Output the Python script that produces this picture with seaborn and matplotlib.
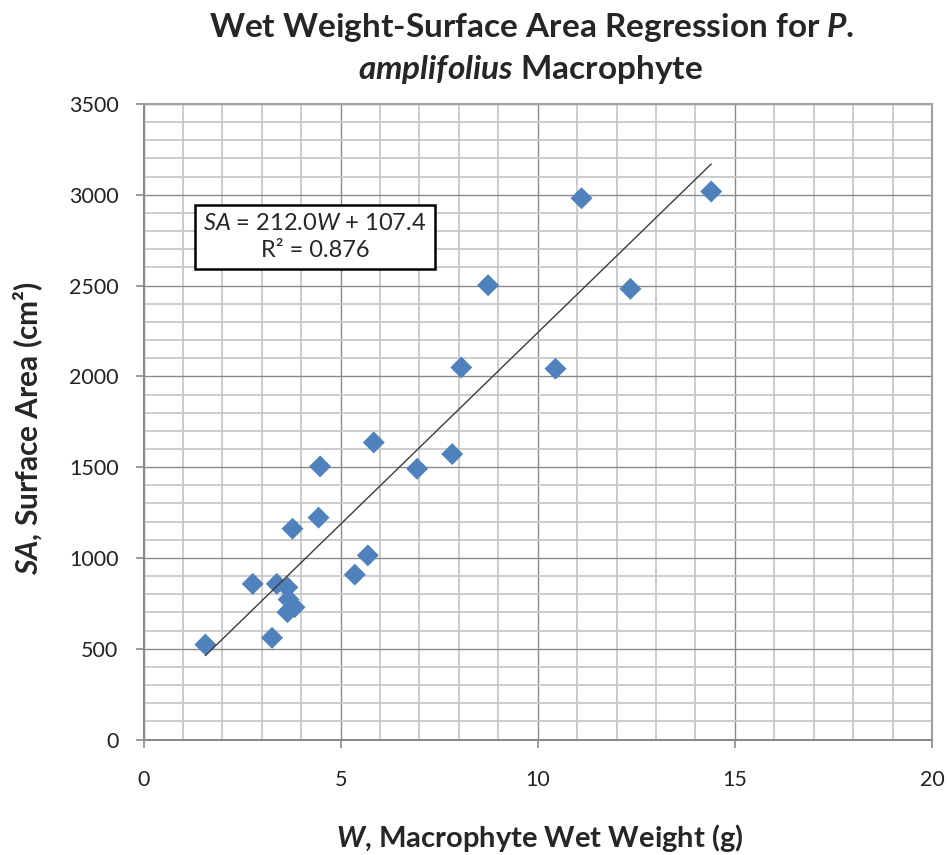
import numpy as np
import pandas as pd
import matplotlib
matplotlib.use("Agg")
import matplotlib.pyplot as plt
import seaborn as sns
from matplotlib.ticker import MultipleLocator

# Data
wet_weight = [1.57, 2.77, 3.26, 3.38, 3.65, 3.68, 3.65, 3.83, 3.78, 4.44, 4.48,
              5.36, 5.69, 5.84, 6.94, 7.83, 8.06, 8.74, 10.45, 11.11, 12.35, 14.40]
surface_area = [523, 857, 560, 857, 838, 771, 701, 728, 1161, 1222, 1504,
                908, 1014, 1636, 1491, 1572, 2049, 2502, 2042, 2981, 2482, 3018]
x_ticks = [0, 5, 10, 15, 20]
y_ticks = [0, 500, 1000, 1500, 2000, 2500, 3000, 3500]
equation_text = "$\\mathit{SA}$ = 212.0$\\mathit{W}$ + 107.4\nR² = 0.876"

df = pd.DataFrame({"W": wet_weight, "SA": surface_area})

sns.set_theme(style="white")
plt.rcParams["font.family"] = ["Lato", "DejaVu Sans"]
plt.rcParams["mathtext.fontset"] = "custom"
plt.rcParams["mathtext.rm"] = "Lato"
plt.rcParams["mathtext.it"] = "Lato:italic"
plt.rcParams["mathtext.bf"] = "Lato:bold"
plt.rcParams["mathtext.bfit"] = "Lato:italic:bold"

fig = plt.figure(figsize=(9.48, 8.55), dpi=100)
ax = fig.add_axes([143.5 / 948, 1 - 739.5 / 855, (932 - 143.5) / 948, (739.5 - 104) / 855])

sns.regplot(data=df, x="W", y="SA", ax=ax, ci=None, marker="D",
            scatter_kws=dict(s=125, color="#4F81BD", edgecolors="none", zorder=3, alpha=1),
            line_kws=dict(color="#3c3c3c", lw=1.0, zorder=4))

ax.set_xlim(0, 20)
ax.set_ylim(0, 3500)
ax.set_xticks(x_ticks)
ax.set_yticks(y_ticks)
ax.xaxis.set_minor_locator(MultipleLocator(1))
ax.yaxis.set_minor_locator(MultipleLocator(100))
ax.grid(which="major", color="#8a8a8a", lw=1.0, zorder=0)
ax.grid(which="minor", color="#c8c8c8", lw=1.3, zorder=0)
ax.set_axisbelow(True)

for side in ["top", "right"]:
    ax.spines[side].set_color("#a0a0a0")
    ax.spines[side].set_linewidth(1.5)
for side in ["left", "bottom"]:
    ax.spines[side].set_color("#8a8a8a")
    ax.spines[side].set_linewidth(1.5)

ax.tick_params(which="major", axis="both", direction="out", length=6,
               width=1.2, color="#8a8a8a", labelsize=15.5, labelcolor="#222222")
ax.tick_params(which="major", axis="y", pad=12)
ax.tick_params(which="major", axis="x", pad=16)
ax.tick_params(which="minor", length=0)
ax.tick_params(left=True, bottom=True)

ax.set_xlabel("$\\mathbfit{W}$, Macrophyte Wet Weight (g)", fontsize=21,
              fontweight="bold", va="center")
ax.xaxis.set_label_coords((540 - 143.5) / 788.5, (739.5 - 838) / 635.5)
ax.set_ylabel("$\\mathbfit{SA}$, Surface Area (cm²)", fontsize=21.5,
              fontweight="bold", va="center", ha="center")
ax.yaxis.set_label_coords((28 - 143.5) / 788.5, (739.5 - 428) / 635.5)

fig.text(531 / 948, 1 - 27 / 855,
         "Wet Weight-Surface Area Regression for $\\mathbfit{P.}$",
         ha="center", va="center", fontsize=24, fontweight="bold")
fig.text(531 / 948, 1 - 70 / 855,
         "$\\mathbfit{amplifolius}$ Macrophyte",
         ha="center", va="center", fontsize=24, fontweight="bold")

ax.text(315 / 948, 1 - 237 / 855, equation_text, transform=fig.transFigure,
        ha="center", va="center", fontsize=17, linespacing=1.3, multialignment="center",
        bbox=dict(boxstyle="square,pad=0.35", fc="white", ec="black", lw=1.8), zorder=6)

fig.savefig("out.png", dpi=100)
